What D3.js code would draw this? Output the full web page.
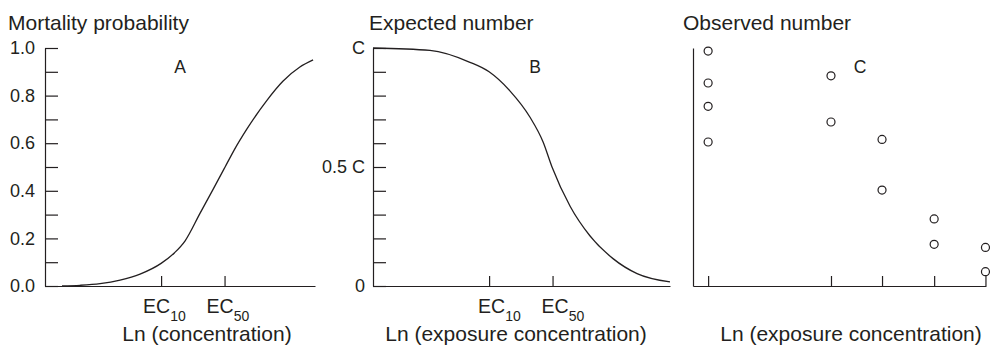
<!DOCTYPE html>
<html>
<head>
<meta charset="utf-8">
<script src="https://cdn.jsdelivr.net/npm/d3@7"></script>
<style>
 body { margin: 0; background: #fff; }
 text { font-family: "Liberation Sans", Arial, sans-serif; fill: #231f20; }
</style>
</head>
<body>
<svg width="990" height="346"></svg>
<script>
// Panel A: mortality probability vs ln(concentration)
var curveA = [[0.63, 0], [1.30, 0.003], [2.04, 0.01], [2.78, 0.025], [3.52, 0.05],
 [4.30, 0.095], [4.80, 0.14], [5.19, 0.19], [5.74, 0.305], [6.22, 0.405], [6.67, 0.50],
 [7.00, 0.57], [7.48, 0.66], [8.22, 0.78], [8.81, 0.86], [9.44, 0.92], [9.93, 0.95]];

// Panel B: expected number (fraction of C)
var curveB = [[0, 1.0], [2.11, 0.99], [3.59, 0.94], [4.30, 0.90], [5.07, 0.82],
 [5.81, 0.71], [6.30, 0.605], [6.63, 0.50], [7.30, 0.335], [8.04, 0.21], [8.89, 0.115],
 [9.78, 0.052], [11.0, 0.017]];

// Panel C: observed numbers at each exposure level
var doseC = [0.56, 5.11, 7.0, 8.93, 10.83];
var obsC = [[0.987, 0.853, 0.755, 0.605], [0.883, 0.689], [0.616, 0.403], [0.282, 0.175], [0.162, 0.060]];

var ecTicks = [4.3, 6.65];
var ecLabels = ["10", "50"];
var yTicks = d3.range(0, 11).map(function(i) { return i / 10; });
var yLabelsA = {0: "0.0", 2: "0.2", 4: "0.4", 6: "0.6", 8: "0.8", 10: "1.0"};
var yLabelsB = {0: "0", 5: "0.5 C", 10: "C"};
var titles = ["Mortality probability", "Expected number", "Observed number"];
var xTitles = ["Ln (concentration)", "Ln (exposure concentration)", "Ln (exposure concentration)"];
var panelLetters = ["A", "B", "C"];

var ink = "#231f20";
var svg = d3.select("svg");

var y = d3.scaleLinear().domain([0, 1]).range([286, 48]);
var xA = d3.scaleLinear().domain([0, 10]).range([45, 315]);
var xB = d3.scaleLinear().domain([0, 11]).range([373, 670]);
var xC = d3.scaleLinear().domain([0, 10.85]).range([693, 986]);

function styleAxis(g) {
 g.selectAll("path, line").attr("stroke", ink).attr("stroke-width", 1.2);
 g.selectAll("text").attr("font-family", null).attr("font-size", "18px").attr("fill", ink);
 g.attr("font-family", null).attr("font-size", null);
}

function drawYAxis(x0, ticks, labels, pad) {
 var g = svg.append("g")
  .attr("transform", "translate(" + x0 + ",0)")
  .call(d3.axisLeft(y)
   .tickValues(ticks)
   .tickSize(-13)
   .tickSizeOuter(0)
   .tickPadding(pad)
   .tickFormat(function(d) {
    var k = Math.round(d * 10);
    return labels[k] !== undefined ? labels[k] : "";
   }));
 styleAxis(g);
}

function drawXAxis(x, ticks) {
 var g = svg.append("g")
  .attr("transform", "translate(0,286)")
  .call(d3.axisBottom(x).tickValues(ticks).tickSize(-10).tickSizeOuter(0).tickFormat(""));
 styleAxis(g);
}

function ecText(x, shift) {
 ecTicks.forEach(function(t, i) {
  var tx = svg.append("text")
   .attr("x", x(t) + shift)
   .attr("y", 313)
   .attr("font-size", "19.5px");
  tx.append("tspan").text("EC");
  tx.append("tspan").attr("dy", 7.5).attr("font-size", "14px").text(ecLabels[i]);
 });
}

var line = function(x) {
 return d3.line()
  .x(function(d) { return x(d[0]); })
  .y(function(d) { return y(d[1]); })
  .curve(d3.curveMonotoneX);
};

// ---- Panel A
drawYAxis(45, yTicks, yLabelsA, 10);
drawXAxis(xA, ecTicks);
ecText(xA, -18);
svg.append("path")
 .datum(curveA)
 .attr("d", line(xA))
 .attr("fill", "none")
 .attr("stroke", ink)
 .attr("stroke-width", 1.3);

// ---- Panel B
drawYAxis(373, yTicks, yLabelsB, 8);
drawXAxis(xB, ecTicks);
ecText(xB, -11);
svg.append("path")
 .datum(curveB)
 .attr("d", line(xB))
 .attr("fill", "none")
 .attr("stroke", ink)
 .attr("stroke-width", 1.3);

// ---- Panel C
var gc = svg.append("g")
 .attr("transform", "translate(693,0)")
 .call(d3.axisLeft(y).tickValues([]).tickSizeOuter(0));
styleAxis(gc);
drawXAxis(xC, doseC);

var pts = [];
doseC.forEach(function(d, i) {
 obsC[i].forEach(function(v) { pts.push([d, v]); });
});
svg.selectAll(".obs")
 .data(pts)
 .enter()
 .append("circle")
 .attr("class", "obs")
 .attr("cx", function(d) { return xC(d[0]); })
 .attr("cy", function(d) { return y(d[1]); })
 .attr("r", 4)
 .attr("fill", "#fff")
 .attr("stroke", ink)
 .attr("stroke-width", 1.2);

// ---- Titles and labels
var titleX = [8, 369, 683];
var xTitleMid = [207, 516, 851];
var letterX = [180, 535, 860];
titles.forEach(function(t, i) {
 svg.append("text").attr("x", titleX[i]).attr("y", 29.5).attr("font-size", "21px").text(t);
 svg.append("text").attr("x", xTitleMid[i]).attr("y", 341).attr("text-anchor", "middle")
  .attr("font-size", "21px").text(xTitles[i]);
 svg.append("text").attr("x", letterX[i]).attr("y", 72.5).attr("text-anchor", "middle")
  .attr("font-size", "17.5px").text(panelLetters[i]);
});
</script>
</body>
</html>
